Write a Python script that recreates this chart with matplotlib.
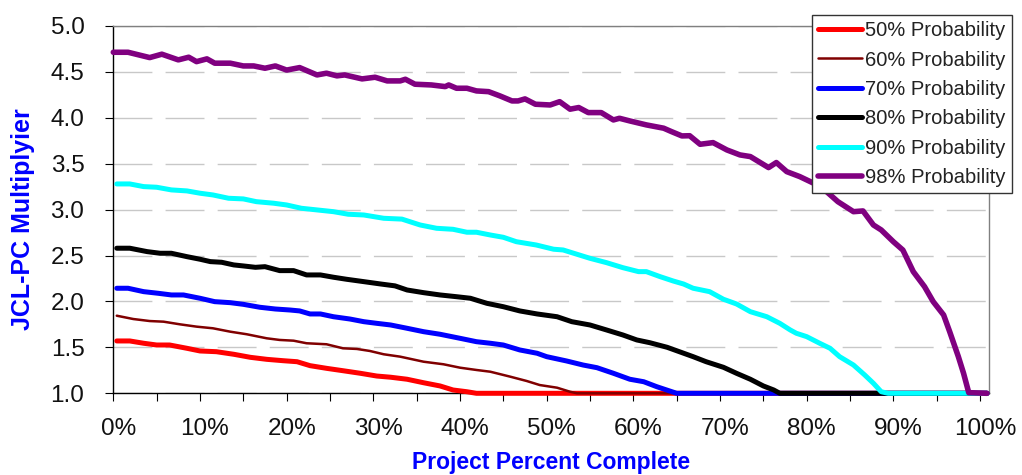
import matplotlib
matplotlib.use('Agg')
import matplotlib.pyplot as plt
from matplotlib.ticker import MultipleLocator, PercentFormatter, FormatStrFormatter
from matplotlib.transforms import ScaledTranslation

plt.rcParams['font.family'] = ['Liberation Sans', 'DejaVu Sans']

# ---- data (x = project percent complete, y = JCL-PC multiplier) ----
labels = ['50% Probability', '60% Probability', '70% Probability',
          '80% Probability', '90% Probability', '98% Probability']
colors = ['#FF0000', '#800000', '#0000FF', '#000000', '#00FFFF', '#800080']

p50_x = [0.4, 1.9, 3.5, 5.0, 6.5, 8.5, 10.0, 11.9, 13.9, 15.8, 17.7, 19.6, 21.2, 22.7, 24.6,
         26.5, 28.5, 30.4, 32.0, 33.9, 35.8, 37.7, 39.2, 40.8, 41.9, 100.8]
p50_y = [1.57, 1.57, 1.545, 1.526, 1.526, 1.49, 1.461, 1.453, 1.425, 1.392, 1.37, 1.355, 1.344,
         1.301, 1.272, 1.246, 1.218, 1.188, 1.175, 1.153, 1.115, 1.08, 1.036, 1.017, 1.0, 1.0]

p60_x = [0.4, 2.3, 4.2, 5.8, 7.7, 9.6, 11.5, 13.5, 15.4, 17.7, 19.2, 20.8, 22.3, 24.6, 26.5,
         28.1, 29.6, 31.2, 33.1, 35.8, 38.1, 40.0, 41.9, 43.5, 45.8, 47.7, 49.2, 51.2, 52.7,
         53.5, 100.8]
p60_y = [1.845, 1.809, 1.787, 1.78, 1.751, 1.726, 1.708, 1.671, 1.643, 1.599, 1.581, 1.573,
         1.545, 1.534, 1.49, 1.483, 1.461, 1.425, 1.399, 1.344, 1.316, 1.279, 1.254, 1.235,
         1.181, 1.134, 1.09, 1.061, 1.017, 1.0, 1.0]

p70_x = [0.4, 1.7, 3.5, 5.2, 6.7, 8.1, 10.0, 11.7, 13.5, 15.0, 16.9, 18.7, 20.4, 21.5, 22.7,
         23.9, 25.4, 27.3, 28.9, 30.4, 32.0, 33.9, 35.8, 37.7, 40.0, 41.9, 43.5, 45.0, 46.9,
         48.9, 50.0, 52.3, 54.2, 55.8, 57.7, 59.6, 61.2, 62.7, 64.2, 65.0, 100.8]
p70_y = [2.144, 2.144, 2.107, 2.089, 2.071, 2.071, 2.035, 1.998, 1.987, 1.969, 1.937, 1.918,
         1.907, 1.897, 1.864, 1.864, 1.834, 1.809, 1.78, 1.762, 1.744, 1.708, 1.671, 1.643,
         1.599, 1.562, 1.545, 1.526, 1.472, 1.436, 1.399, 1.352, 1.308, 1.279, 1.218, 1.153,
         1.126, 1.072, 1.025, 1.0, 1.0]

p80_x = [0.4, 1.9, 3.9, 5.4, 6.7, 8.5, 10.0, 11.2, 12.5, 13.9, 15.0, 16.4, 17.5, 19.2, 20.8,
         22.3, 23.9, 25.4, 26.9, 28.9, 30.8, 32.5, 33.9, 35.8, 37.7, 39.6, 41.2, 43.1, 45.0,
         46.9, 48.9, 51.2, 52.9, 55.0, 56.9, 58.8, 60.4, 61.9, 63.9, 65.4, 66.9, 68.4, 70.4,
         71.9, 73.5, 75.0, 76.2, 76.9, 100.8]
p80_y = [2.58, 2.58, 2.543, 2.525, 2.525, 2.488, 2.46, 2.434, 2.427, 2.398, 2.387, 2.372,
         2.379, 2.336, 2.336, 2.289, 2.289, 2.264, 2.242, 2.216, 2.191, 2.17, 2.125, 2.096,
         2.071, 2.052, 2.035, 1.98, 1.943, 1.897, 1.864, 1.834, 1.78, 1.744, 1.69, 1.635,
         1.581, 1.551, 1.501, 1.45, 1.399, 1.344, 1.283, 1.218, 1.153, 1.08, 1.036, 1.0, 1.0]

p90_x = [0.4, 1.9, 3.5, 5.0, 6.7, 8.5, 10.0, 11.5, 13.3, 15.0, 16.5, 18.5, 20.0, 21.7, 23.5,
         25.4, 27.1, 28.9, 31.2, 33.3, 35.4, 37.3, 39.2, 40.8, 41.9, 43.5, 45.0, 46.5, 48.8,
         50.8, 51.9, 53.5, 55.0, 56.9, 58.8, 60.6, 61.5, 63.1, 64.6, 65.8, 66.9, 68.8, 70.4,
         71.9, 73.5, 75.4, 76.9, 78.1, 78.8, 80.0, 81.5, 82.7, 83.8, 85.4, 86.7, 87.7, 88.6,
         89.4, 100.8]
p90_y = [3.28, 3.28, 3.251, 3.244, 3.215, 3.204, 3.179, 3.16, 3.124, 3.117, 3.087, 3.07,
         3.051, 3.015, 2.997, 2.978, 2.95, 2.942, 2.906, 2.897, 2.833, 2.797, 2.786, 2.754,
         2.754, 2.724, 2.699, 2.651, 2.615, 2.569, 2.561, 2.514, 2.47, 2.423, 2.368, 2.325,
         2.325, 2.27, 2.223, 2.19, 2.144, 2.107, 2.024, 1.973, 1.889, 1.834, 1.762, 1.69,
         1.654, 1.617, 1.545, 1.49, 1.399, 1.308, 1.199, 1.109, 1.017, 1.0, 1.0]

p98_x = [0.0, 1.7, 4.2, 5.6, 7.5, 8.7, 9.6, 10.8, 11.7, 13.5, 15.0, 16.2, 17.5, 18.7, 20.0,
         21.5, 23.5, 24.6, 25.8, 26.7, 28.7, 30.2, 31.6, 33.1, 33.7, 34.8, 36.7, 38.3, 38.7,
         39.6, 40.8, 41.9, 43.3, 44.6, 46.0, 46.7, 47.5, 48.7, 50.4, 51.5, 52.7, 53.7, 54.8,
         56.3, 57.7, 58.4, 59.6, 61.5, 63.5, 64.4, 65.6, 66.5, 67.7, 69.2, 70.8, 72.3, 73.5,
         75.6, 76.5, 77.7, 79.2, 80.8, 82.3, 83.6, 85.4, 86.5, 87.7, 88.6, 90.0, 91.1, 92.3,
         93.6, 94.6, 95.8, 96.5, 97.5, 98.1, 98.7, 100.8]
p98_y = [4.714, 4.714, 4.656, 4.693, 4.631, 4.66, 4.612, 4.642, 4.595, 4.595, 4.565, 4.565,
         4.54, 4.565, 4.52, 4.547, 4.467, 4.486, 4.457, 4.467, 4.424, 4.442, 4.402, 4.402,
         4.42, 4.366, 4.358, 4.34, 4.358, 4.322, 4.322, 4.293, 4.285, 4.239, 4.184, 4.184,
         4.206, 4.148, 4.14, 4.176, 4.094, 4.112, 4.057, 4.057, 3.977, 3.995, 3.966, 3.923,
         3.887, 3.85, 3.803, 3.805, 3.712, 3.73, 3.65, 3.596, 3.578, 3.458, 3.513, 3.414,
         3.36, 3.288, 3.196, 3.087, 2.978, 2.986, 2.833, 2.779, 2.651, 2.56, 2.325, 2.161,
         1.998, 1.853, 1.671, 1.399, 1.218, 1.007, 1.0]

xs = [p50_x, p60_x, p70_x, p80_x, p90_x, p98_x]
ys = [p50_y, p60_y, p70_y, p80_y, p90_y, p98_y]
widths = [3.6, 1.8, 3.6, 3.6, 3.6, 4.0]

W, H = 1022, 475
fig = plt.figure(figsize=(W / 100, H / 100), dpi=100)
fig.patch.set_facecolor('white')
L, R, T, B = 113.3, 989.3, 26.0, 393.3
ax = fig.add_axes([L / W, (H - B) / H, (R - L) / W, (B - T) / H])

for x, y, c, lw, lab in zip(xs, ys, colors, widths, labels):
    ax.plot(x, y, color=c, lw=lw, label=lab, clip_on=False, zorder=3,
            solid_capstyle='round', solid_joinstyle='round')

ax.set_xlim(0, 101.07)
ax.set_ylim(1.0, 5.0)
ax.xaxis.set_major_locator(MultipleLocator(10))
ax.xaxis.set_minor_locator(MultipleLocator(5))
ax.xaxis.set_major_formatter(PercentFormatter(100, decimals=0))
ax.yaxis.set_major_locator(MultipleLocator(0.5))
ax.yaxis.set_major_formatter(FormatStrFormatter('%.1f'))

ax.tick_params(axis='both', which='both', direction='out', length=5.8, width=0.8,
               color='black', labelcolor='#111111')
ax.tick_params(axis='x', which='major', labelsize=17.5, pad=12)
ax.tick_params(axis='y', which='major', labelsize=17.5, pad=15)

ax.yaxis.grid(True, color='#c8c8c8', lw=1.0, linestyle=(0, (28, 9.5)))
ax.set_axisbelow(True)

for s in ['left', 'bottom']:
    ax.spines[s].set_color('black')
    ax.spines[s].set_linewidth(1.0)
for s in ['top', 'right']:
    ax.spines[s].set_color('#808080')
    ax.spines[s].set_linewidth(1.0)

offset = ScaledTranslation(5 / 100, 0, fig.dpi_scale_trans)
for lbl in ax.get_xticklabels():
    lbl.set_transform(lbl.get_transform() + offset)

ax.set_ylabel('JCL-PC Multiplyier', color='#0000FF', fontsize=18, fontweight='bold')
ax.yaxis.label.set_va('center')
ax.yaxis.set_label_coords(-0.103, 0.473)

ax.set_xlabel('Project Percent Complete', color='#0000FF', fontsize=16.5, fontweight='bold')
ax.xaxis.label.set_va('baseline')
ax.xaxis.set_label_coords(0.5, (B - 469.0) / (B - T))

leg = ax.legend(loc='upper right', bbox_to_anchor=(1012 / W, (H - 15) / H),
                bbox_transform=fig.transFigure, fontsize=14.5, frameon=True,
                fancybox=False, shadow=False, framealpha=1, edgecolor='#333333',
                borderaxespad=0, borderpad=0.3, labelspacing=0.52,
                handlelength=2.2, handletextpad=0.15)
leg.get_frame().set_linewidth(1.0)
for t in leg.get_texts():
    t.set_color('#222222')

fig.savefig('out.png', dpi=100, facecolor='white')
